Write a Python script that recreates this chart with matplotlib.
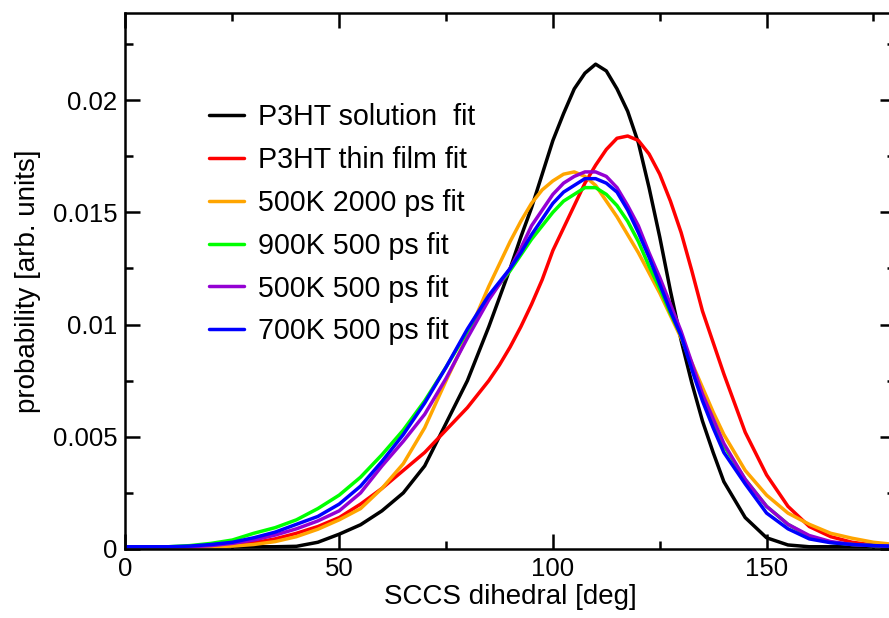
"""
SCCS dihedral angle distributions (fits) for P3HT, xmgrace-style figure.
"""

import matplotlib
matplotlib.use("Agg")
import matplotlib.pyplot as plt
from matplotlib.ticker import MultipleLocator

# dihedral angle grid [deg]; finer around the peaks
angle = [0, 5, 10, 15, 20, 25, 30, 35, 40, 45, 50, 55, 60, 65, 70, 75, 80,
         85, 87.5, 90, 92.5, 95, 97.5, 100, 102.5, 105, 107.5, 110, 112.5,
         115, 117.5, 120, 122.5, 125, 127.5, 130, 132.5, 135, 137.5, 140,
         145, 150, 155, 160, 165, 170, 175, 180]

# values
p3ht_solution = [0.0001, 0.0001, 0.0001, 0.0001, 0.0001, 0.0001, 0.0001, 0.0001,
                 0.00012, 0.0003, 0.00066, 0.00108, 0.0017, 0.0025, 0.0037,
                 0.0056, 0.0075,
                 0.0099, 0.0112, 0.0125, 0.0139, 0.0152, 0.0167, 0.0182, 0.0194,
                 0.0205, 0.0212, 0.0216, 0.0213, 0.0205, 0.0195, 0.0181, 0.0161,
                 0.0139, 0.0115, 0.0093, 0.0074, 0.0057, 0.0043, 0.0030,
                 0.0014, 0.0005, 0.00018, 0.0001, 0.0001, 0.0001, 0.0001, 0.0001]
p3ht_thin_film = [0.0001, 0.0001, 0.0001, 0.0001, 0.00013, 0.00018, 0.00028,
                  0.00045, 0.0007, 0.001, 0.0014, 0.0020, 0.0027, 0.0035, 0.0043,
                  0.0053, 0.0063,
                  0.0075, 0.0082, 0.0090, 0.0099, 0.0109, 0.0120, 0.0133, 0.0143,
                  0.0153, 0.0163, 0.0171, 0.0178, 0.0183, 0.0184, 0.0182, 0.0176,
                  0.0167, 0.0155, 0.0141, 0.0124, 0.0106, 0.0092, 0.0078,
                  0.0052, 0.0033, 0.0019, 0.0010, 0.00055, 0.0003, 0.00018, 0.00012]
k500_2000ps = [0.0001, 0.0001, 0.0001, 0.0001, 0.0001, 0.00013, 0.0002, 0.00033,
               0.00055, 0.00088, 0.0013, 0.0018, 0.0027, 0.0038, 0.0054, 0.0075,
               0.0095,
               0.0117, 0.0127, 0.0137, 0.0146, 0.0154, 0.0160, 0.0164, 0.0167,
               0.0168, 0.0166, 0.0162, 0.0155, 0.0148, 0.0140, 0.0132, 0.0123,
               0.0114, 0.0104, 0.0094, 0.0083, 0.0072, 0.0061, 0.0051,
               0.0035, 0.0024, 0.0016, 0.0011, 0.0007, 0.00048, 0.0003, 0.0002]
k900_500ps = [0.0001, 0.0001, 0.0001, 0.00015, 0.00025, 0.0004, 0.0007, 0.00095,
              0.0013, 0.0018, 0.0024, 0.0032, 0.0042, 0.0053, 0.0066, 0.0081,
              0.0097,
              0.0112, 0.0118, 0.0124, 0.0131, 0.0138, 0.0144, 0.0150, 0.0155,
              0.0158, 0.0161, 0.0161, 0.0158, 0.0153, 0.0146, 0.0137, 0.0126,
              0.0116, 0.0105, 0.0095, 0.0081, 0.0068, 0.0057, 0.0046,
              0.0031, 0.0019, 0.0011, 0.00055, 0.0003, 0.0002, 0.00015, 0.00012]
k500_500ps = [0.0001, 0.0001, 0.0001, 0.0001, 0.00015, 0.00025, 0.0004, 0.00062,
              0.0009, 0.00125, 0.0017, 0.0025, 0.0037, 0.0048, 0.0060, 0.0076,
              0.0094,
              0.0111, 0.0118, 0.0125, 0.0134, 0.0144, 0.0151, 0.0158, 0.0163,
              0.0166, 0.0168, 0.0168, 0.0166, 0.0161, 0.0153, 0.0144, 0.0132,
              0.0121, 0.0109, 0.0097, 0.0083, 0.0069, 0.0058, 0.0047,
              0.0031, 0.0019, 0.0011, 0.0006, 0.00033, 0.0002, 0.00015, 0.00012]
k700_500ps = [0.0001, 0.0001, 0.0001, 0.00013, 0.0002, 0.0003, 0.0005, 0.00075,
              0.0011, 0.00145, 0.0020, 0.0028, 0.0039, 0.0051, 0.0065, 0.0081,
              0.0098,
              0.0113, 0.0119, 0.0125, 0.0132, 0.0140, 0.0147, 0.0154, 0.0159,
              0.0162, 0.0165, 0.0165, 0.0163, 0.0159, 0.0151, 0.0141, 0.0130,
              0.0118, 0.0106, 0.0095, 0.0080, 0.0066, 0.0054, 0.0043,
              0.0029, 0.0016, 0.0009, 0.00045, 0.00028, 0.0002, 0.00015, 0.00012]

labels = ["P3HT solution  fit", "P3HT thin film fit", "500K 2000 ps fit",
          "900K 500 ps fit", "500K 500 ps fit", "700K 500 ps fit"]
colors = ["black", "#ff0000", "#ffa500", "#00ff00", "#9400d3", "#0000ff"]
series = [p3ht_solution, p3ht_thin_film, k500_2000ps, k900_500ps,
          k500_500ps, k700_500ps]

plt.rcParams["font.family"] = ["Liberation Sans", "DejaVu Sans"]

fig = plt.figure(figsize=(8.89, 6.18), dpi=100)
# right spine sits just outside the picture, as in the original
ax = fig.add_axes([125.5 / 889, 69 / 618, 769.3 / 889, 536 / 618])

for ys, lab, col in zip(series, labels, colors):
    ax.plot(angle, ys, color=col, lw=2.5, label=lab,
            solid_joinstyle="round", solid_capstyle="round")

ax.set_xlim(0, 180)
ax.set_ylim(0, 0.02388)
ax.xaxis.set_major_locator(MultipleLocator(50))
ax.xaxis.set_minor_locator(MultipleLocator(25))
ax.yaxis.set_minor_locator(MultipleLocator(0.0025))
ax.set_yticks([0, 0.005, 0.01, 0.015, 0.02])
ax.set_yticklabels(["0", "0.005", "0.01", "0.015", "0.02"])

for s in ax.spines.values():
    s.set_linewidth(1.8)
ax.tick_params(which="both", direction="in", top=True, right=True,
               width=1.8, labelsize=18.5)
ax.tick_params(which="major", length=11, pad=6)
ax.tick_params(which="minor", length=5.5)

ax.set_xlabel("SCCS dihedral [deg]", fontsize=20, labelpad=2)
ax.set_ylabel("probability [arb. units]", fontsize=20, labelpad=8)

ax.legend(loc="upper left", bbox_to_anchor=(209 / 889, 1 - 103 / 618),
          bbox_transform=fig.transFigure, frameon=False, fontsize=20.6,
          handlelength=1.22, handletextpad=0.49, labelspacing=0.52,
          borderpad=0, borderaxespad=0)

plt.savefig("out.png", dpi=100)
